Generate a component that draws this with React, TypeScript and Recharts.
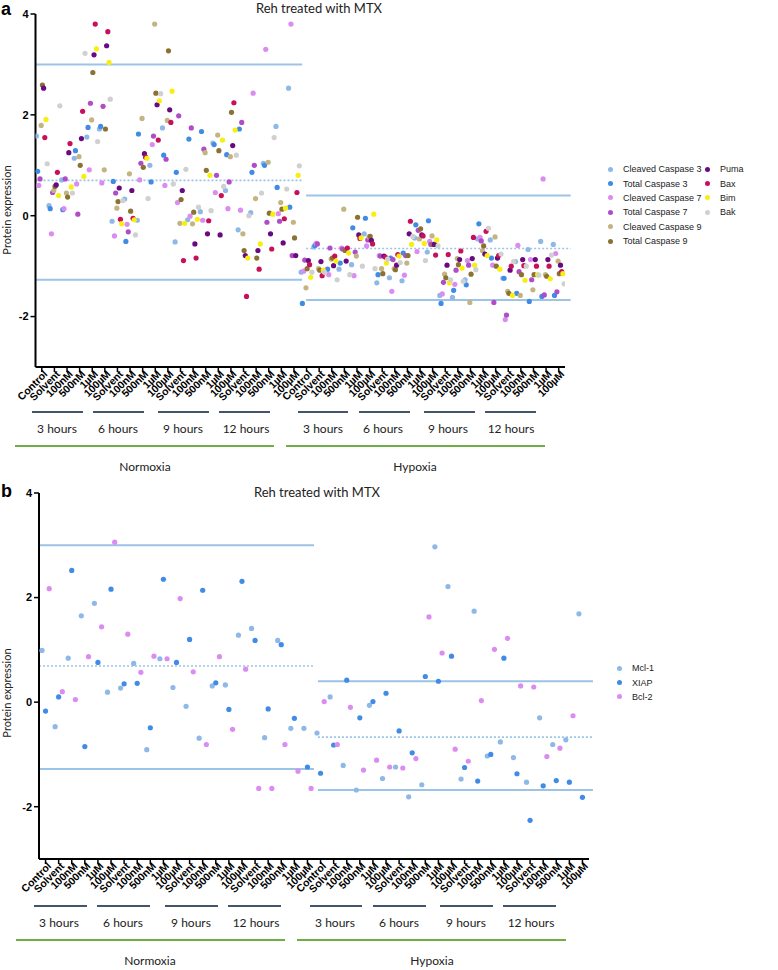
import { ScatterChart, Scatter, XAxis, YAxis, ReferenceLine } from "recharts";

// x tick labels (42 columns: normoxia then hypoxia)
const DOSES = ["Solvent", "100nM", "500nM", "1µM", "100µM"];
const BLOCK = ["Control", ...DOSES, ...DOSES, ...DOSES, ...DOSES];
const TICK_LABELS = [...BLOCK, ...BLOCK];
const TICKS = TICK_LABELS.map((_, i) => i);

const GROUPS = ["3 hours", "6 hours", "9 hours", "12 hours"];
const CONDITIONS = ["Normoxia", "Hypoxia"];

// panel a values, one entry per column
const cleavedCasp3 = [1.58, 0.2, 0.71, 1.14, 1.56, 1.72, -0.11, 0.33, -0.09, 1.0, 1.74, -0.52, -0.08, 0.08, 1.44, 0.5, -0.28, 0.06, 1.04, 1.77, 2.53, -1.12, -0.62, -1.08, -1.06, -0.97, -0.36, -1.33, -1.23, -1.29, -0.44, -0.72, -1.58, -1.62, -1.27, -0.46, -0.48, -1.24, -0.91, -0.67, -0.51, -0.57];
const totalCasp3 = [0.88, 0.14, 0.12, 1.29, 1.75, 1.77, 0.68, -0.51, 1.62, 0.67, 1.2, 0.86, 1.52, 1.67, 1.41, 1.21, 1.72, 0.86, 1.0, 0.56, 0.17, -1.74, -0.59, -1.06, -0.94, -0.24, -0.05, -1.17, -0.84, -0.74, -0.18, -0.1, -1.74, -1.48, -1.37, -0.16, -0.84, -1.24, -1.54, -1.7, -1.6, -1.58];
const cleavedCasp7 = [0.6, -0.36, 0.14, 0.63, 0.91, 0.65, -0.4, -0.17, 0.71, 1.41, 0.6, 0.26, -0.01, -0.09, 0.46, 0.14, 0.11, 2.43, 3.3, 0.04, 3.8, -1.1, -0.55, -1.17, -0.64, -1.19, -0.6, -0.79, -1.5, -1.18, -0.71, -0.51, -1.55, -1.36, -0.89, -0.43, -0.98, -2.06, -0.59, -0.87, 0.73, -0.75];
const totalCasp7 = [0.73, 0.46, 0.73, 0.03, 2.23, 2.17, 0.45, -0.32, 1.04, 1.58, 1.12, 1.98, 1.74, 1.32, 0.8, 0.67, 1.85, 1.0, -0.13, -0.11, -0.79, -0.88, -0.56, -0.64, -0.66, -0.72, -0.48, -0.8, -0.87, -0.79, -0.29, -0.57, -1.32, -1.08, -0.98, -0.5, -1.72, -1.97, -1.11, -1.27, -1.57, -1.51];
const cleavedCasp9 = [1.79, 0.5, 0.45, 1.17, 1.9, 0.91, 0.15, 0.83, 1.93, 3.8, 1.89, -0.15, -0.16, 1.25, 1.6, 1.17, -0.36, 0.34, 1.06, 0.26, -0.13, -1.43, -1.05, -0.86, 0.13, -0.8, -0.42, -1.05, -1.05, -0.94, -0.46, -0.4, -1.16, -0.85, -1.72, -0.69, -0.42, -1.5, -1.58, -1.47, -1.17, -0.9];
const totalCasp9 = [2.59, 0.58, 0.37, 1.0, 2.84, 1.72, 0.28, 0.09, 0.96, 2.43, 3.27, 0.32, 0.07, 0.9, 1.29, 2.05, -0.69, -0.84, 0.05, 0.13, -0.44, -1.05, -1.08, -0.84, -0.69, -0.03, -0.41, -1.15, -1.07, -0.79, -0.26, -0.57, -1.23, -0.97, -1.16, -0.6, -1.0, -1.54, -1.17, -1.17, -1.2, -1.15];
const puma = [2.53, 0.61, 1.25, 1.53, 3.19, 3.37, 0.55, 0.5, 1.23, 2.2, 2.1, 0.5, -0.56, -0.36, -0.38, 1.39, -0.79, -0.69, -0.36, -0.54, -0.79, -0.89, -0.91, -0.99, -0.9, -0.38, -0.49, -0.8, -0.98, -0.36, -0.38, -0.57, -0.98, -0.87, -0.85, -0.76, -0.84, -1.08, -0.87, -0.87, -0.87, -0.98];
const bax = [1.55, 0.86, 1.43, 2.07, 3.8, 3.65, -0.07, -0.05, 1.16, 1.5, 1.85, -0.89, -0.84, -0.1, 0.4, 2.24, -1.6, -1.06, -0.66, -0.06, 0.46, -0.97, -1.19, -0.8, -0.64, -0.45, -0.56, -0.82, -0.77, -0.11, -0.4, -0.78, -0.77, -0.7, -0.43, -0.31, -0.79, -1.0, -0.99, -1.0, -1.0, -1.11];
const bim = [1.91, 0.4, 0.57, 0.78, 3.31, 3.04, -0.16, -0.08, 1.14, 2.28, 2.47, -0.15, -0.07, 0.8, 1.5, 1.7, -0.84, -0.56, 0.03, 0.15, 0.8, -1.22, -1.08, -0.9, -0.74, -0.44, 0.03, -0.94, -0.8, -0.57, -0.55, -0.48, -1.33, -1.04, -0.98, -0.79, -1.06, -1.58, -1.28, -1.17, -1.25, -1.15];
const bak = [1.03, 2.18, 0.45, 3.22, 1.47, 2.31, 0.3, -0.38, 0.34, 2.42, 0.63, 0.92, 0.17, 0.1, 0.58, 1.2, 0.0, 0.45, 1.55, 0.53, 0.99, -1.12, -1.12, -1.27, -1.17, -1.0, -1.05, -0.86, -0.93, -0.41, -0.89, -0.6, -1.27, -1.3, -1.07, -0.25, -0.76, -0.91, -1.0, -1.18, -0.78, -1.35];

// panel b values
const mcl1 = [0.99, -0.47, 0.84, 1.65, 1.89, 0.19, 0.27, 0.74, -0.91, 0.83, 0.28, -0.08, -0.69, 0.31, 0.33, 1.28, 1.41, -0.68, 1.18, -0.5, -0.5, -0.59, 0.1, -1.21, -1.68, -0.06, -1.46, -1.24, -1.81, -1.58, 2.97, 2.21, -1.47, 1.74, -1.03, -0.76, -1.06, -1.53, -0.3, -0.81, -0.72, 1.69];
const xiap = [-0.17, 0.1, 2.52, -0.85, 0.76, 2.16, 0.35, 0.36, -0.49, 2.35, 0.76, 1.2, 2.14, 0.37, -0.14, 2.31, 1.18, -0.13, 1.1, -0.31, -1.24, -1.36, -0.82, 0.42, -0.3, 0.01, 0.17, -0.55, -0.97, 0.49, 0.4, 0.88, -1.25, -1.51, -1.0, 0.84, -1.37, -2.26, -1.6, -1.5, -1.53, -1.82];
const bcl2 = [2.17, 0.2, 0.05, 0.87, 1.44, 3.06, 1.3, 0.57, 0.88, 0.83, 1.98, 0.58, -0.81, 0.87, -0.52, 0.63, -1.65, -1.65, -0.81, -1.32, -1.65, 0.01, -0.81, -0.1, -1.3, -1.11, -1.24, -1.26, -1.08, 1.63, 0.94, -0.9, -1.13, 0.03, 1.01, 1.22, 0.31, 0.29, -1.04, -0.88, -0.26, null];

// reference levels: [upper, middle (dotted), lower]
const refA_normoxia = [3.0, 0.7, -1.27];
const refA_hypoxia = [0.4, -0.65, -1.67];
const refB_normoxia = [3.0, 0.69, -1.28];
const refB_hypoxia = [0.4, -0.67, -1.68];

const SERIES_A = [
  { name: "Cleaved Caspase 3", color: "#8db8e8", values: cleavedCasp3 },
  { name: "Total Caspase 3", color: "#3f8be6", values: totalCasp3 },
  { name: "Cleaved Caspase 7", color: "#dc8cf0", values: cleavedCasp7 },
  { name: "Total Caspase 7", color: "#b04cc8", values: totalCasp7 },
  { name: "Cleaved Caspase 9", color: "#c4b482", values: cleavedCasp9 },
  { name: "Total Caspase 9", color: "#8a7232", values: totalCasp9 },
  { name: "Puma", color: "#6a0a80", values: puma },
  { name: "Bax", color: "#c8105a", values: bax },
  { name: "Bim", color: "#f8ee10", values: bim },
  { name: "Bak", color: "#d0d0d0", values: bak },
];

const SERIES_B = [
  { name: "Mcl-1", color: "#8db8e8", values: mcl1 },
  { name: "XIAP", color: "#3f8be6", values: xiap },
  { name: "Bcl-2", color: "#dc8cf0", values: bcl2 },
];

const REF = "#9dc3e6";
const SANS = "'Liberation Sans', Arial, sans-serif";
const SOFT = "Lato, 'Open Sans', sans-serif";

function toPoints(values: (number | null)[], offset: number) {
  return values
    .map((v, i) => (v == null ? null : { x: i + offset, y: v }))
    .filter(Boolean) as { x: number; y: number }[];
}

function XTick({ x, y, payload }: any) {
  return (
    <text
      x={x}
      y={y}
      dx={4}
      dy={5}
      transform={`rotate(-45 ${x} ${y})`}
      textAnchor="end"
      fontSize={10.5}
      fontWeight="bold"
      fontFamily={SANS}
      fill="#000"
    >
      {TICK_LABELS[payload.value]}
    </text>
  );
}

function dot(color: string) {
  return (p: any) => <circle cx={p.cx} cy={p.cy} r={2.6} fill={color} />;
}

function refLines(levels: number[], x0: number, x1: number, key: string) {
  return levels.map((v, i) => (
    <ReferenceLine
      key={`${key}-${i}`}
      segment={[{ x: x0, y: v }, { x: x1, y: v }]}
      stroke={REF}
      strokeWidth={i === 1 ? 1.6 : 2}
      strokeDasharray={i === 1 ? "2 2" : undefined}
      ifOverflow="visible"
    />
  ));
}

function Panel({ series, offsets, height, margin, refN, refH, nEnd, hStart, hEnd }: any) {
  return (
    <ScatterChart width={778} height={height} margin={margin}>
      <XAxis
        type="number"
        dataKey="x"
        domain={[-0.5, 41.5]}
        ticks={TICKS}
        interval={0}
        height={50}
        tick={<XTick />}
        tickSize={5}
        axisLine={{ stroke: "#000", strokeWidth: 2 }}
        tickLine={{ stroke: "#000", strokeWidth: 1.5 }}
        allowDataOverflow
      />
      <YAxis
        type="number"
        dataKey="y"
        domain={[-3, 4]}
        ticks={[-2, 0, 2, 4]}
        width={30}
        tickSize={5}
        tick={{ fontSize: 11, fontWeight: "bold", fill: "#000", fontFamily: SANS }}
        axisLine={{ stroke: "#000", strokeWidth: 2 }}
        tickLine={{ stroke: "#000", strokeWidth: 1.5 }}
        allowDataOverflow
      />
      {refLines(refN, -0.5, nEnd, "n")}
      {refLines(refH, hStart, hEnd, "h")}
      {series.map((s: any, k: number) => (
        <Scatter
          key={s.name}
          name={s.name}
          data={toPoints(s.values, offsets[k])}
          fill={s.color}
          shape={dot(s.color)}
          isAnimationActive={false}
        />
      ))}
    </ScatterChart>
  );
}

function Annotations({ top, lineSpans, labelX, greenSpans, condX, yLabelY }: any) {
  return (
    <g>
      {lineSpans.map((s: number[], i: number) => (
        <line key={`g${i}`} x1={s[0]} x2={s[1]} y1={top} y2={top} stroke="#44546a" strokeWidth={2} />
      ))}
      {labelX.map((x: number, i: number) => (
        <text key={`t${i}`} x={x} y={top + 21} textAnchor="middle" fontSize={12} fontFamily={SOFT} fill="#222">
          {GROUPS[i % 4]}
        </text>
      ))}
      {greenSpans.map((s: number[], i: number) => (
        <line key={`c${i}`} x1={s[0]} x2={s[1]} y1={top + 34} y2={top + 34} stroke="#70ad47" strokeWidth={2} />
      ))}
      {condX.map((x: number, i: number) => (
        <text key={`n${i}`} x={x} y={top + 59} textAnchor="middle" fontSize={12} fontFamily={SOFT} fill="#222">
          {CONDITIONS[i]}
        </text>
      ))}
      <text
        x={11}
        y={yLabelY}
        transform={`rotate(-90 11 ${yLabelY})`}
        textAnchor="middle"
        fontSize={11}
        fontFamily={SOFT}
        fill="#222"
      >
        Protein expression
      </text>
    </g>
  );
}

function LegendList({ items, left, top }: any) {
  return (
    <div style={{ position: "absolute", left, top, fontFamily: SANS, fontSize: 9, color: "#222" }}>
      {items.map((s: any) => (
        <div key={s.name} style={{ display: "flex", alignItems: "center", height: 14.4, whiteSpace: "nowrap" }}>
          <span style={{ width: 5, height: 5, borderRadius: 3, background: s.color, marginRight: 10, flexShrink: 0 }} />
          <span>{s.name}</span>
        </div>
      ))}
    </div>
  );
}

export default function App() {
  const offsetsA = SERIES_A.map((_, k) => (k - 4.5) * 0.095);
  const offsetsB = [-0.27, 0, 0.28];
  return (
    <div style={{ position: "absolute", left: 0, top: 0, width: 778, height: 970, background: "#fff" }}>
      <div style={{ position: "absolute", left: 0, top: 0 }}>
        <Panel
          series={SERIES_A}
          offsets={offsetsA}
          height={470}
          margin={{ top: 14, right: 213, left: 5.5, bottom: 53 }}
          refN={refA_normoxia}
          refH={refA_hypoxia}
          nEnd={20.65}
          hStart={20.97}
          hEnd={41.95}
        />
      </div>
      <div style={{ position: "absolute", left: 0, top: 480 }}>
        <Panel
          series={SERIES_B}
          offsets={offsetsB}
          height={480}
          margin={{ top: 13, right: 189, left: 9, bottom: 51 }}
          refN={refB_normoxia}
          refH={refB_hypoxia}
          nEnd={20.5}
          hStart={20.8}
          hEnd={41.8}
        />
      </div>
      <svg width={778} height={970} style={{ position: "absolute", left: 0, top: 0, pointerEvents: "none" }}>
        <text x={1} y={15} fontSize={18} fontWeight="bold" fontFamily={SANS}>a</text>
        <text x={1} y={497} fontSize={18} fontWeight="bold" fontFamily={SANS}>b</text>
        <text x={319} y={13} textAnchor="middle" fontSize={13} fontFamily={SOFT} fill="#222">Reh treated with MTX</text>
        <text x={317} y={497} textAnchor="middle" fontSize={13} fontFamily={SOFT} fill="#222">Reh treated with MTX</text>
        <Annotations
          top={412}
          lineSpans={[[32, 83], [93, 144], [158, 209], [219, 270], [298, 348], [359, 410], [424, 475], [485, 536]]}
          labelX={[57, 118, 183, 246, 323, 383, 448, 511]}
          greenSpans={[[15, 274], [286, 545]]}
          condX={[145, 415]}
          yLabelY={210}
        />
        <Annotations
          top={906}
          lineSpans={[[34, 87], [97, 150], [165, 218], [228, 281], [310, 362], [373, 426], [440, 493], [503, 556]]}
          labelX={[59, 123, 191, 256, 335, 399, 466, 531]}
          greenSpans={[[16, 285], [297, 566]]}
          condX={[150, 432]}
          yLabelY={693}
        />
      </svg>
      <LegendList items={SERIES_A.slice(0, 6)} left={608} top={162} />
      <LegendList items={SERIES_A.slice(6)} left={705} top={162} />
      <LegendList items={SERIES_B} left={617} top={661} />
    </div>
  );
}
